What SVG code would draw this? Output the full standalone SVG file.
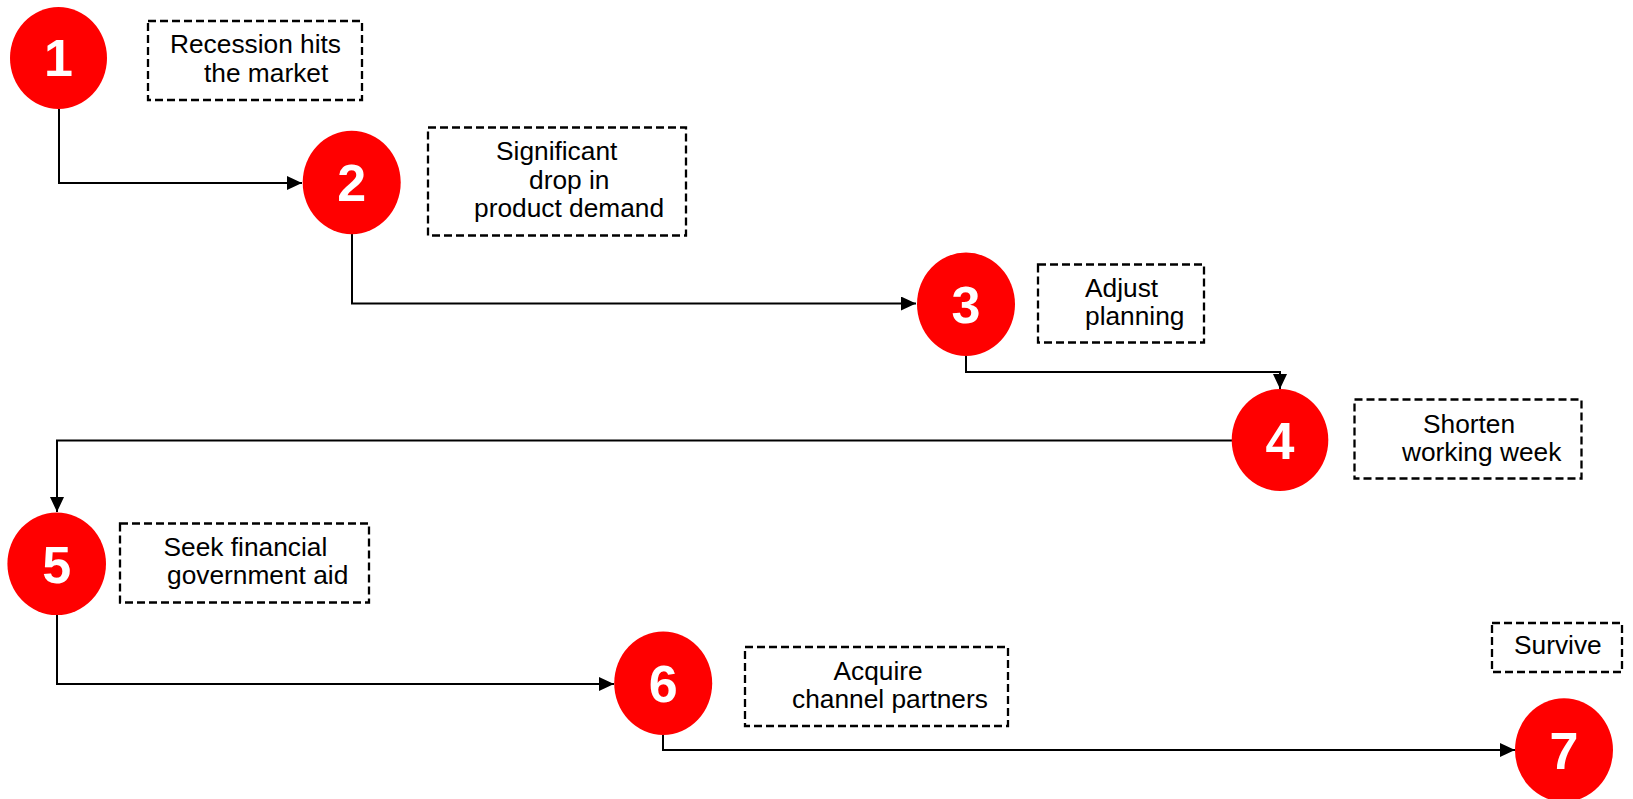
<svg xmlns="http://www.w3.org/2000/svg" width="1633" height="799" viewBox="0 0 1633 799">
<style>
.c{fill:#FF0000;stroke:none}
.n{font-family:"Liberation Sans",Arial,sans-serif;font-weight:bold;font-size:52px;fill:#FFFFFF;text-anchor:middle}
.b{fill:none;stroke:#000;stroke-width:2.3;stroke-dasharray:8 4}
.t{font-family:"Liberation Sans",Arial,sans-serif;font-size:26.3px;fill:#000}
.l{fill:none;stroke:#000;stroke-width:2}
</style>
<defs>
<marker id="ah" markerUnits="userSpaceOnUse" markerWidth="16" markerHeight="14" refX="15" refY="7" orient="auto">
<path d="M0,0 L15,7 L0,14 z" fill="#000"/>
</marker>
</defs>
<g id="connectors">
<path class="l" d="M59,109 V183 H302" marker-end="url(#ah)"/>
<path class="l" d="M352,234 V303.5 H916" marker-end="url(#ah)"/>
<path class="l" d="M966,356 V372 H1280 V389" marker-end="url(#ah)"/>
<path class="l" d="M1232,440.5 H57 V512" marker-end="url(#ah)"/>
<path class="l" d="M57,615 V684 H614" marker-end="url(#ah)"/>
<path class="l" d="M663,735 V750 H1515" marker-end="url(#ah)"/>
</g>
<g id="node1">
<ellipse class="c" cx="58.5" cy="58" rx="48.5" ry="51"/>
<text class="n" x="58.5" y="76">1</text>
</g>
<g id="label1">
<rect class="b" x="148" y="21" width="214" height="79"/>
<text class="t" x="170" y="53">Recession hits</text>
<text class="t" x="204" y="82">the market</text>
</g>
<g id="node2">
<ellipse class="c" cx="351.7" cy="182.5" rx="49" ry="51.7"/>
<text class="n" x="351.7" y="201">2</text>
</g>
<g id="label2">
<rect class="b" x="428" y="127.5" width="258" height="108"/>
<text class="t" x="496" y="160">Significant</text>
<text class="t" x="529" y="188.5">drop in</text>
<text class="t" x="474" y="216.5">product demand</text>
</g>
<g id="node3">
<ellipse class="c" cx="966" cy="304.3" rx="49" ry="51.7"/>
<text class="n" x="966" y="323">3</text>
</g>
<g id="label3">
<rect class="b" x="1038" y="264.5" width="166" height="78"/>
<text class="t" x="1085" y="297">Adjust</text>
<text class="t" x="1085" y="325">planning</text>
</g>
<g id="node4">
<ellipse class="c" cx="1280" cy="440" rx="48.3" ry="51"/>
<text class="n" x="1280" y="458.5">4</text>
</g>
<g id="label4">
<rect class="b" x="1354.5" y="399.5" width="227" height="79"/>
<text class="t" x="1423" y="433">Shorten</text>
<text class="t" x="1402" y="461">working week</text>
</g>
<g id="node5">
<ellipse class="c" cx="56.7" cy="563.8" rx="49.3" ry="51.3"/>
<text class="n" x="56.7" y="582.5">5</text>
</g>
<g id="label5">
<rect class="b" x="120" y="523.5" width="249" height="79"/>
<text class="t" x="163.5" y="556">Seek financial</text>
<text class="t" x="167" y="584">government aid</text>
</g>
<g id="node6">
<ellipse class="c" cx="663.2" cy="683.3" rx="49" ry="51.7"/>
<text class="n" x="663.2" y="702">6</text>
</g>
<g id="label6">
<rect class="b" x="745" y="647" width="263" height="79"/>
<text class="t" x="833.5" y="679.5">Acquire</text>
<text class="t" x="792" y="707.5">channel partners</text>
</g>
<g id="node7">
<ellipse class="c" cx="1564" cy="750" rx="49" ry="51.7"/>
<text class="n" x="1564" y="768.5">7</text>
</g>
<g id="label7">
<rect class="b" x="1492" y="623" width="130" height="49"/>
<text class="t" x="1514" y="654">Survive</text>
</g>
</svg>
